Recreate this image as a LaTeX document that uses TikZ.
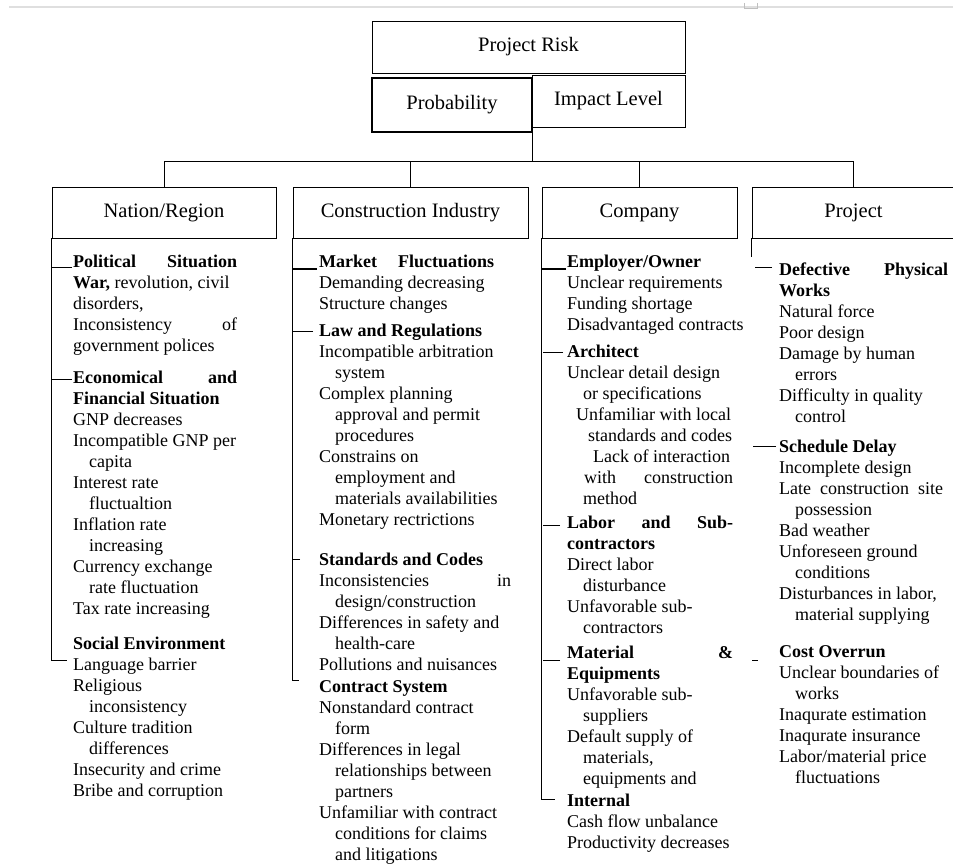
\documentclass[tikz,border=0pt]{standalone}
\usepackage{fontspec}
\setmainfont{Liberation Serif}
\usepackage{tikz}
\usetikzlibrary{positioning}
\setlength{\parindent}{0pt}
\tikzstyle{head} = [rectangle, draw=black, line width=0.9pt, minimum height=51pt, inner sep=0pt, text centered, font=\fontsize{20.5}{24}\selectfont]
\tikzstyle{items} = [anchor=north west, yshift=14.7pt, inner sep=0pt, align=left, font=\fontsize{18}{21}\selectfont]
\tikzstyle{link} = [line width=0.9pt]
\tikzstyle{boldtick} = [line width=1.8pt]
\newcommand{\indt}{\hspace*{16pt}}
\newcommand{\just}[2]{\makebox[#1][s]{#2}}

\begin{document}
\begin{tikzpicture}[x=1pt, y=-1pt]
\useasboundingbox (0,0) rectangle (953,864);
% page edge
\draw [gray!25, line width=2pt] (9,7) -- (953,7);
\draw [gray!50, line width=0.6pt] (744,3) |- (757,8) -- (757,3);

% top
\node (risk) [head, minimum width=313pt, minimum height=52pt] at (528.5,47) {Project Risk};
\node (prob) [head, minimum width=160pt, minimum height=54pt, line width=1.6pt] at (452,105) {Probability};
\node (impact) [head, minimum width=153pt, minimum height=52pt] at (608.5,101) {Impact Level};

% categories
\node (nation) [head, minimum width=224pt] at (164,212.5) {Nation/Region};
\node (industry) [head, minimum width=235pt] at (410.5,212.5) {Construction Industry};
\node (company) [head, minimum width=195pt] at (639.5,212.5) {Company};
\node (project) [head, minimum width=203pt] at (853.5,212.5) {Project};

\coordinate (hub) at ([yshift=-29pt]prob.south east);
\draw [link] (prob.south east) -- (hub);
\draw [link] (nation.north) |- (hub) -| (project.north);
\draw [link] (industry.north) -- (industry.north |- hub);
\draw [link] (company.north) -- (company.north |- hub);

% Nation/Region
\node (natA) [items] at (73,267) {\strut\just{164pt}{\textbf{Political Situation}}\\
\textbf{War,} revolution, civil\\
disorders,\\
\just{164pt}{Inconsistency of}\\
government polices};
\node (natB) [items] at (73,383) {\strut\just{164pt}{\textbf{Economical and}}\\
\textbf{Financial Situation}\\
GNP decreases\\
Incompatible GNP per\\
\indt capita\\
Interest rate\\
\indt fluctualtion\\
Inflation rate\\
\indt increasing\\
Currency exchange\\
\indt rate fluctuation\\
Tax rate increasing};
\node (natC) [items] at (73,649) {\strut\textbf{Social Environment}\\
Language barrier\\
Religious\\
\indt inconsistency\\
Culture tradition\\
\indt differences\\
Insecurity and crime\\
Bribe and corruption};
\draw [link] (nation.south west) |- ([xshift=-6pt,yshift=-25.7pt]natC.north west);
\draw [link] ([xshift=-1pt,yshift=-14.7pt]natA.north west) -- ++(-20pt,0);
\draw [link] ([xshift=-1pt,yshift=-10.7pt]natB.north west) -- ++(-20pt,0);

% Construction Industry
\node (indA) [items] at (319,267) {\strut\textbf{Market}\hspace{21pt}\textbf{Fluctuations}\\
Demanding decreasing\\
Structure changes};
\node (indB) [items] at (319,336) {\strut\textbf{Law and Regulations}\\
Incompatible arbitration\\
\indt system\\
Complex planning\\
\indt approval and permit\\
\indt procedures\\
Constrains on\\
\indt employment and\\
\indt materials availabilities\\
Monetary rectrictions};
\node (indC) [items] at (319,565) {\strut\textbf{Standards and Codes}\\
\just{192pt}{Inconsistencies in}\\
\indt design/construction\\
Differences in safety and\\
\indt health-care\\
Pollutions and nuisances};
\node (indD) [items] at (319,692) {\strut\textbf{Contract System}\\
Nonstandard contract\\
\indt form\\
Differences in legal\\
\indt relationships between\\
\indt partners\\
Unfamiliar with contract\\
\indt conditions for claims\\
\indt and litigations};
\draw [link] (industry.south west) |- ([xshift=-20pt,yshift=-2.7pt]indD.north west);
\draw [boldtick] ([xshift=-2pt,yshift=-16.7pt]indA.north west) -- ++(-24pt,0);
\draw [link] ([xshift=-6pt,yshift=-9.7pt]indB.north west) -- ++(-20pt,0);
\draw [link] ([xshift=-19pt,yshift=-8.7pt]indC.north west) -- ++(-7pt,0);

% Company
\node (compA) [items] at (567,267) {\strut\textbf{Employer/Owner}\\
Unclear requirements\\
Funding shortage\\
Disadvantaged contracts};
\node (compB) [items] at (567,357) {\strut\textbf{Architect}\\
Unclear detail design\\
\indt or specifications\\
\hspace*{9pt}Unfamiliar with local\\
\hspace*{21pt}standards and codes\\
\hspace*{26pt}Lack of interaction\\
\hspace*{17pt}\just{149pt}{with construction}\\
\indt method};
\node (compC) [items] at (567,528) {\strut\just{166pt}{\textbf{Labor and Sub-}}\\
\textbf{contractors}\\
Direct labor\\
\indt disturbance\\
Unfavorable sub-\\
\indt contractors};
\node (compD) [items] at (567,658) {\strut\just{166pt}{\textbf{Material \&}}\\
\textbf{Equipments}\\
Unfavorable sub-\\
\indt suppliers\\
Default supply of\\
\indt materials,\\
\indt equipments and};
\node (compE) [items] at (567,806) {\strut\textbf{Internal}\\
Cash flow unbalance\\
Productivity decreases};
\draw [link] (company.south west) |- ([xshift=-12pt,yshift=-7.7pt]compE.north west);
\draw [boldtick] ([xshift=-1pt,yshift=-16.7pt]compA.north west) -- ++(-24pt,0);
\draw [link] ([xshift=-4pt,yshift=-9.7pt]compB.north west) -- ++(-20pt,0);
\draw [link] ([xshift=-7pt,yshift=-11.7pt]compC.north west) -- ++(-17pt,0);
\draw [link] ([xshift=-7pt,yshift=-16.7pt]compD.north west) -- ++(-17pt,0);

% Project
\node (projA) [items] at (779,275) {\strut\just{169pt}{\textbf{Defective Physical}}\\
\textbf{Works}\\
Natural force\\
Poor design\\
Damage by human\\
\indt errors\\
Difficulty in quality\\
\indt control};
\node (projB) [items] at (779,452) {\strut\textbf{Schedule Delay}\\
Incomplete design\\
\just{164pt}{Late construction site}\\
\indt possession\\
Bad weather\\
Unforeseen ground\\
\indt conditions\\
Disturbances in labor,\\
\indt material supplying};
\node (projC) [items] at (779,657) {\strut\textbf{Cost Overrun}\\
Unclear boundaries of\\
\indt works\\
Inaqurate estimation\\
Inaqurate insurance\\
Labor/material price\\
\indt fluctuations};
\draw [link] (project.south west) -- ++(0,19);
\draw [link] ([xshift=-7pt,yshift=-6.7pt]projA.north west) -- ++(-17pt,0);
\draw [link] ([xshift=-3pt,yshift=-8.7pt]projB.north west) -- ++(-23pt,0);
\draw [link] ([xshift=-21pt,yshift=-17.7pt]projC.north west) -- ++(-6pt,0);
\end{tikzpicture}
\end{document}
